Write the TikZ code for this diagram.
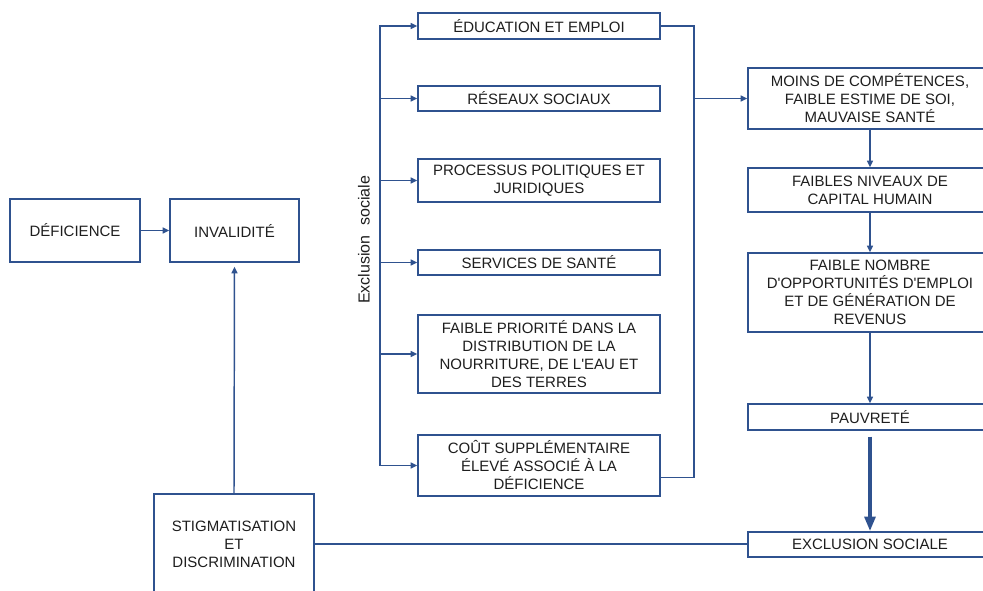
\documentclass[tikz,border=0pt]{standalone}
\usepackage{fontspec}
\setmainfont{Liberation Sans}[Ligatures=TeXOff]
\usetikzlibrary{arrows.meta,calc}
\definecolor{lineblue}{RGB}{47,82,143}
\definecolor{txt}{RGB}{30,30,30}
\newcommand{\pbox}[6]{%
  \node[box,minimum width={0.75pt*(#4-#2)},minimum height={0.75pt*(#5-#3)}]
    (#1) at ({(#2+#4)/2},{(#3+#5)/2}) {#6};}
\begin{document}
\begin{tikzpicture}[x=0.75pt,y=-0.75pt,
  box/.style={draw=lineblue,line width=1.1pt,fill=white,text=txt,
    font=\fontsize{11.25}{13.5}\selectfont,align=center,inner sep=0pt},
  arr/.style={draw=lineblue,line width=1.1pt,-{Triangle[length=5pt,width=4.5pt]}},
  ln/.style={draw=lineblue,line width=1.1pt}]
\useasboundingbox (0,0) rectangle (983,590);

% left part
\pbox{def}{10}{199}{140}{262}{DÉFICIENCE}
\pbox{inv}{170}{199}{299}{262}{INVALIDITÉ}
\pbox{stig}{154}{494}{314}{594}{STIGMATISATION\\ET\\DISCRIMINATION}

% middle column
\pbox{educ}{418}{13}{660}{39}{ÉDUCATION ET EMPLOI}
\pbox{res}{418}{86}{660}{111}{RÉSEAUX SOCIAUX}
\pbox{proc}{418}{159}{660}{202}{PROCESSUS POLITIQUES ET\\JURIDIQUES}
\pbox{serv}{418}{250}{660}{275}{SERVICES DE SANTÉ}
\pbox{prio}{418}{315}{660}{393}{FAIBLE PRIORITÉ DANS LA\\DISTRIBUTION DE LA\\NOURRITURE, DE L'EAU ET\\DES TERRES}
\pbox{cout}{418}{435}{660}{496}{COÛT SUPPLÉMENTAIRE\\ÉLEVÉ ASSOCIÉ À LA\\DÉFICIENCE}

% right column
\pbox{moins}{748}{68}{992}{129}{MOINS DE COMPÉTENCES,\\FAIBLE ESTIME DE SOI,\\MAUVAISE SANTÉ}
\pbox{niv}{748}{168}{992}{212}{FAIBLES NIVEAUX DE\\CAPITAL HUMAIN}
\pbox{nomb}{748}{253}{992}{332}{FAIBLE NOMBRE\\D'OPPORTUNITÉS D'EMPLOI\\ET DE GÉNÉRATION DE\\REVENUS}
\pbox{pauv}{748}{404}{992}{430}{PAUVRETÉ}
\pbox{excl}{748}{532}{992}{557}{EXCLUSION SOCIALE}

% vertical label
\node[rotate=90,text=txt,font=\fontsize{12}{14}\selectfont] (lbl) at (364,240) {Exclusion\hspace{0.6em}sociale};

% left connectors
\draw[arr] (def.east) -- (inv.west);
\draw[arr,shorten >=3pt] (stig.north) -- (inv.south);
\draw[ln] (stig.east) -- (stig.east -| excl.west);

% left bracket
\coordinate (L) at (380,0);
\draw[ln,line cap=rect] (L |- educ.west) -- (L |- cout.west);
\foreach \n in {educ,res,proc,serv,prio,cout}
  \draw[arr] (L |- \n.west) -- (\n.west);

% right bracket
\coordinate (R) at (694,0);
\coordinate (cj) at ($(cout.east)+(0,12)$);
\draw[ln] (educ.east) -| (R |- cj) -- (cj);
\draw[arr] (R |- moins.west) -- (moins.west);

% right column arrows
\draw[arr] (moins.south) -- (niv.north);
\draw[arr] (niv.south) -- (nomb.north);
\draw[arr] (nomb.south) -- (pauv.north);
\draw[draw=lineblue,line width=3pt,-{Triangle[length=11pt,width=8pt]},shorten <=4.5pt] (pauv.south) -- (excl.north);
\end{tikzpicture}
\end{document}
